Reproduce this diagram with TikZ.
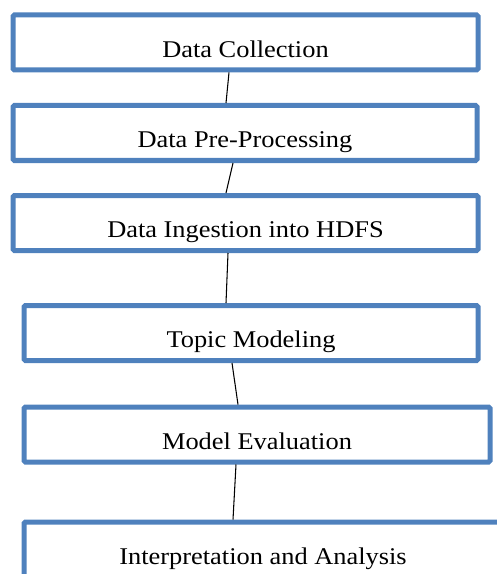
\documentclass[tikz,border=0pt]{standalone}
\usepackage{fontspec}
\setmainfont[FakeStretch=1.1]{Liberation Serif}
\usepackage{tikz}
\usetikzlibrary{positioning,calc}
\definecolor{stageblue}{RGB}{79,129,189}

\begin{document}
\begin{tikzpicture}[x=0.75pt,y=-0.75pt,
        stage/.style={draw=stageblue,line width=3.75pt,rounded corners=1pt,
            minimum height=41.25pt,inner sep=0pt,
            text height=22pt,text depth=0pt,
            font=\fontsize{18}{20}\selectfont},
        link/.style={line width=0.8pt,black}]
    \useasboundingbox (0,0) rectangle (496,574);
    % pipeline stages
    \node[stage,minimum width=348.75pt] (collect) at (245.5,42.5) {Data Collection};
    \node[stage,minimum width=348pt] (preproc) at (245,133) {Data Pre-Processing};
    \node[stage,minimum width=348.75pt] (ingest) at (245.5,223) {Data Ingestion into HDFS};
    \node[stage,minimum width=340.5pt] (topic) at (251,333) {Topic Modeling};
    \node[stage,minimum width=349.5pt] (evalm) at (257,434.5) {Model Evaluation};
    \node[stage,minimum width=358.5pt] (interp) at (263,549.5) {Interpretation and Analysis};
    % plain joining lines, a bit off the centre
    \draw[link] ($(collect.south)+(-16.5,0)$) -- ($(preproc.north)+(-19,0)$);
    \draw[link] ($(preproc.south)+(-12,0)$) -- ($(ingest.north)+(-19.5,0)$);
    \draw[link] ($(ingest.south)+(-17.5,0)$) -- ($(topic.north)+(-25,0)$);
    \draw[link] ($(topic.south)+(-19,0)$) -- ($(evalm.north)+(-19,0)$);
    \draw[link] ($(evalm.south)+(-21,0)$) -- ($(interp.north)+(-30,0)$);
\end{tikzpicture}
\end{document}
